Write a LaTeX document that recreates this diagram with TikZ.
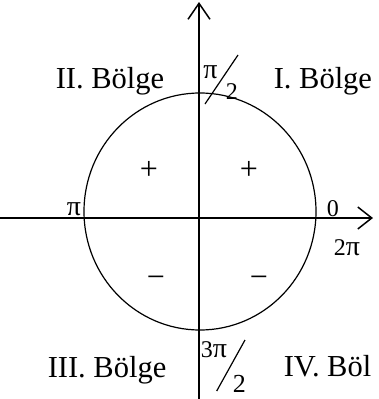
\documentclass[tikz,border=0pt]{standalone}
\usepackage{fontspec}
\setmainfont{Liberation Serif}
\usetikzlibrary{arrows.meta}

\begin{document}
\begin{tikzpicture}[x=1pt,y=-1pt,line width=1.5pt,
  region/.style={font=\fontsize{30.5}{36}\selectfont,inner sep=0,anchor=base west},
  angle/.style={font=\fontsize{24}{28}\selectfont,inner sep=0,anchor=base west},
  sign/.style={font=\fontsize{32}{36}\selectfont,inner sep=0}]
\newcommand{\bigpi}{{\fontsize{28}{30}\selectfont π}}
\useasboundingbox (0,0) rectangle (378,399);
\coordinate (C) at (200,211.5);
\coordinate (xs) at (0,218);\coordinate (xe) at (373,218);
\coordinate (ys) at (199,399);\coordinate (ye) at (199,2);
\draw[-{Straight Barb[length=14pt,width=22pt]}] (xs)--(xe);
\draw[-{Straight Barb[length=16pt,width=22pt]}] (ys)--(ye);
\draw[line width=1.2pt] (C) ellipse [x radius=116,y radius=118.5];
% quadrant names
\node[region] (q2) at (55,88) {II. Bölge};
\node[region] (q1) at (273,88) {I. Bölge};
\node[region] (q3) at (47,377) {III. Bölge};
\node[region] (q4) at (283,376) {IV. Böl};
% angles
\node[angle] (pi) at (202.5,78) {\bigpi};
\node[angle] (two) at (225,99) {2};
\coordinate (s1) at (205,104);\coordinate (s2) at (238,55);
\draw[line width=1.2pt] (s1)--(s2);
\node[angle] (zero) at (326,216) {0};
\node[angle] (twopi) at (333,255) {2\bigpi};
\node[angle] (pil) at (66,215) {\bigpi};
\node[angle] (tpi) at (200,357) {3\bigpi};
\node[angle,font=\fontsize{26}{30}\selectfont] (twob) at (232,392) {2};
\coordinate (s3) at (216.7,391);\coordinate (s4) at (245,340);
\draw[line width=1.2pt] (s3)--(s4);
% signs
\node[sign] (p1) at (149,170) {+};
\node[sign] (p2) at (249,170) {+};
\node[sign] (m1) at (156,282) {−};
\node[sign] (m2) at (259,282) {−};
\end{tikzpicture}
\end{document}
